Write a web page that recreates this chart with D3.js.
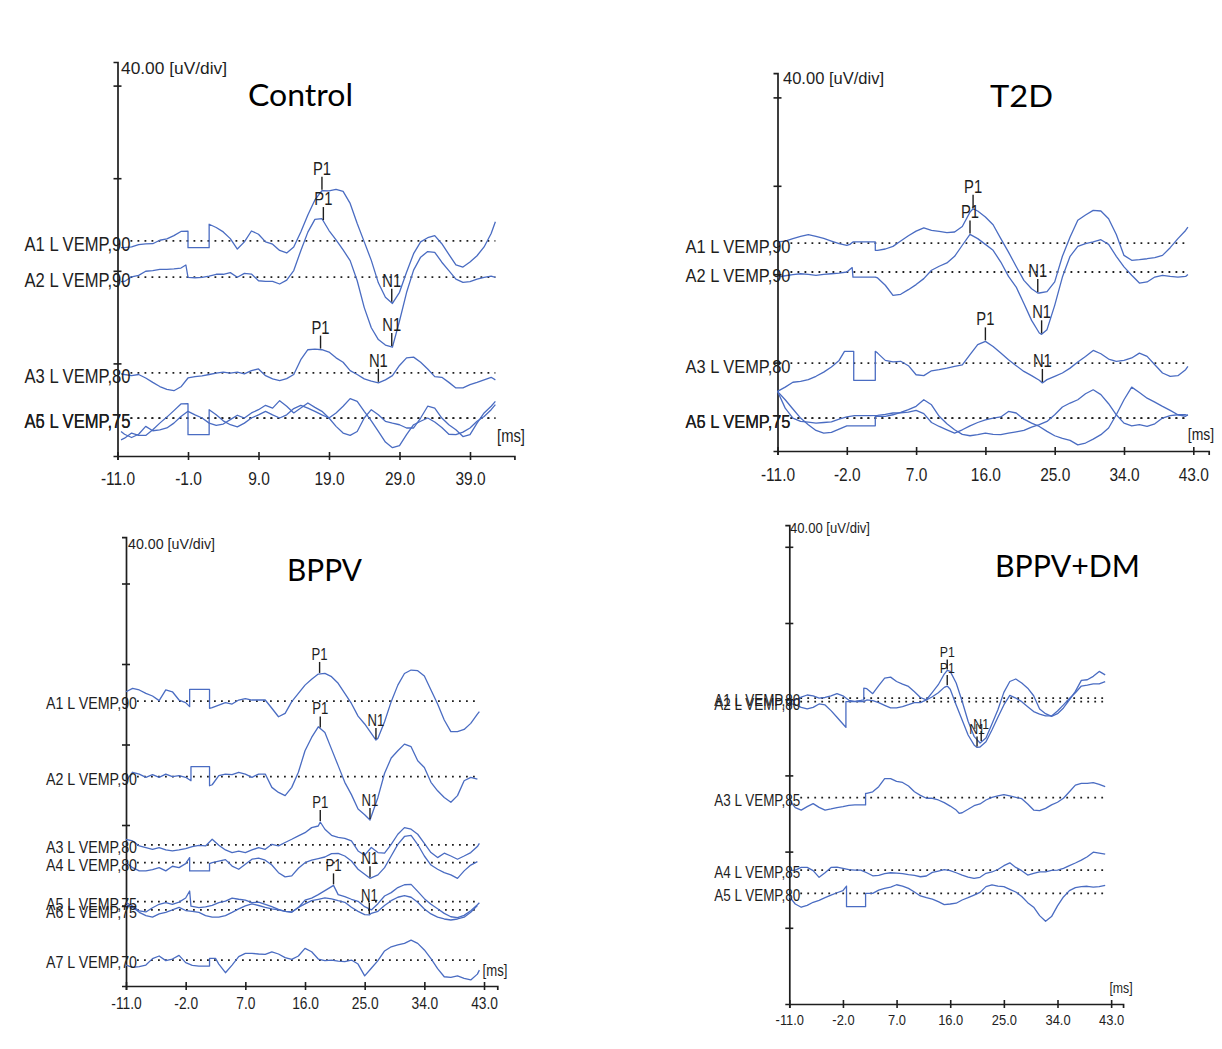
<!DOCTYPE html>
<html><head><meta charset="utf-8">
<script src="https://cdn.jsdelivr.net/npm/d3@7"></script>
<style>html,body{margin:0;padding:0;background:#fff;}svg{display:block;}</style>
</head><body>
<svg id="chart" width="1222" height="1049"></svg>
<script>
// ===================== DATA =====================
// time in ms, amplitude in uV (deviation from each trace's baseline)
const titles = ["Control", "T2D", "BPPV", "BPPV+DM"];
const timeTicksControl = [-11, -1, 9, 19, 29, 39];
const timeTicksOther = [-11, -2, 7, 16, 25, 34, 43];
const ampTicksControl = [40, 80, 120, 160];
const ampTicksT2D = [40, 80, 120, 160];
const ampTicksBPPV = [40, 80, 120, 160, 200];
const ampTicksBPPVDM = [40, 80, 120, 160, 200, 240];
const unitLabel = "40.00 [uV/div]";
const timeUnitLabel = "[ms]";

// ---- Control ----
const controlKeys = ["A1", "A2", "A3", "A5", "A6"];
const controlNames = ["A1 L VEMP,90", "A2 L VEMP,90", "A3 L VEMP,80", "A5 L VEMP,75", "A6 L VEMP,75"];
const controlBaselines = [92.9, 77.3, 35.9, 16.4, 16.4];
const controlA1 = [[-10.5,-2.9],[-10,-2.9],[-9,-2.6],[-8,-1.6],[-7,-1.3],[-6,-1.2],[-5,0.3],[-4,0.9],[-3,2.3],[-2,4.1],[-1,4.2],[-1,-2.9],[2,-2.9],[2,7.2],[3,5.8],[4,3.9],[5,1.0],[6,-3.5],[7,-0.4],[8,4.3],[9,2.9],[10,-0.4],[11,-1.4],[12,-4.1],[13,-5.2],[14,-2.6],[15,3.9],[16,11.2],[17,17.7],[18,21.7],[19,21.6],[20,22.3],[21,21.4],[22,16.2],[23,7.5],[24,-0.4],[25,-8.4],[26,-18.1],[27,-24.3],[28,-27.0],[29,-22.2],[30,-13.5],[31,-5.5],[32,-0.4],[33,1.4],[34,2.3],[35,-1.2],[36,-5.8],[37,-10.3],[38,-11.3],[39,-9.1],[40,-6.4],[41,-2.6],[42,3.2],[42.6,8.3]];
const controlA2 = [[-10.5,-2.0],[-10,-1.9],[-9,0.1],[-8,0.7],[-7,2.5],[-6,2.8],[-5,3.3],[-4,3.3],[-3,3.5],[-2,3.9],[-1.3,5.2],[-1,-0.1],[0,-0.3],[1,-0.1],[2,0.4],[3,1.2],[4,1.2],[5,1.9],[6,-0.1],[7,1.6],[8,1.3],[9,-1.6],[10,-1.9],[11,-1.9],[12,-3.0],[13,-1.3],[14,2.8],[15,11.4],[16,19.4],[17,24.9],[18,25.2],[19,20.1],[20,16.1],[21,11.7],[22,7.1],[23,-1.6],[24,-13.2],[25,-21.9],[26,-27.0],[27,-29.4],[28,-30.3],[29,-19.0],[30,-6.7],[31,3.0],[32,8.6],[33,11.0],[34,10.7],[35,6.4],[36,2.8],[37,-0.9],[38,-2.3],[39,-2.0],[40,-0.9],[41,-0.1],[42,0.4],[42.6,-0.1]];
const controlA3 = [[-10.5,-0.4],[-10,-0.7],[-9,-1.2],[-8,-0.7],[-7,-2.2],[-6,-4.1],[-5,-5.9],[-4,-7.1],[-3,-7.7],[-2,-6.0],[-1,-2.2],[0,-1.6],[1,-1.3],[2,-0.7],[3,-0.1],[4,0.3],[5,-0.1],[6,0.3],[7,-0.4],[8,1.0],[9,1.7],[10,-1.2],[11,-2.6],[12,-3.3],[13,-2.5],[14,-0.7],[15,5.7],[16,10.0],[17,10.3],[18,10.0],[19,9.0],[20,6.5],[21,4.6],[22,1.0],[23,-0.7],[24,-2.6],[25,-3.6],[26,-4.3],[27,-3.0],[28,-1.2],[29,3.2],[30,6.5],[31,6.8],[32,4.6],[33,1.7],[34,-1.6],[35,-1.9],[36,-4.1],[37,-6.5],[38,-6.5],[39,-5.1],[40,-4.1],[41,-3.0],[42,-1.9],[42.6,-3.0]];
const controlA5 = [[-10.5,-9.4],[-10,-8.7],[-9,-6.5],[-8,-7.5],[-7,-7.5],[-6,-5.1],[-5,-2.2],[-4,0.4],[-3,3.2],[-2,6.1],[-1,6.2],[-1,-7.2],[2,-7.2],[2,3.6],[3,1.4],[4,-1.2],[5,-2.9],[6,-3.8],[7,-2.2],[8,0],[9,1.4],[10,2.9],[11,1.4],[12,0],[13,1.4],[14,4.1],[15,5.5],[16,4.3],[17,2.9],[18,1.4],[19,0],[20,2.2],[21,5.1],[22,8.4],[23,7.2],[24,2.9],[25,-1.2],[26,-5.8],[27,-10.4],[28,-12.8],[29,-11.9],[30,-7.2],[31,-2.9],[32,-1.4],[33,0],[34,-1.7],[35,-4.1],[36,-7.0],[37,-7.2],[38,-6.1],[39,-4.3],[40,-1.4],[41,0.7],[42,3.6],[42.6,5.8]];
const controlA6 = [[-10.5,-5.8],[-10,-7.0],[-9,-8.4],[-8,-7.0],[-7,-3.6],[-6,-5.5],[-5,-5.1],[-4,-4.3],[-3,-2.2],[-2,0.7],[-1,2.9],[0,1.4],[1,0],[2,-2.2],[3,-3.2],[4,-2.6],[5,-0.7],[6,1.2],[7,0],[8,2.2],[9,3.6],[10,5.5],[11,4.3],[12,7.5],[13,5.1],[14,2.2],[15,4.3],[16,6.5],[17,4.6],[18,2.9],[19,0],[20,-3.6],[21,-6.5],[22,-7.5],[23,-5.8],[24,0],[25,3.6],[26,1.4],[27,-1.4],[28,-2.2],[29,-2.9],[30,-4.3],[31,-4.3],[32,0],[33,5.1],[34,4.3],[35,0],[36,-2.9],[37,-5.1],[38,-8.0],[39,-7.2],[40,-2.2],[41,2.2],[42,5.1],[42.6,7.2]];
const controlMarkers = [["A1","P1",18.0],["A2","P1",18.2],["A1","N1",27.9],["A2","N1",27.9],["A3","P1",17.8],["A3","N1",26.0]];

// ---- T2D ----
const t2dKeys = ["A1", "A2", "A3", "A5", "A6"];
const t2dNames = ["A1 L VEMP,90", "A2 L VEMP,90", "A3 L VEMP,80", "A5 L VEMP,75", "A6 L VEMP,75"];
const t2dBaselines = [94.1, 81.0, 39.8, 14.9, 14.9];
const t2dA1 = [[-11,0.5],[-10,0.9],[-9,2.0],[-8,3.0],[-7,3.8],[-6,3.0],[-5,2.1],[-4,0.9],[-3,-0.3],[-2,-1.1],[-1.6,-0.6],[-1.2,0.5],[1.7,0.5],[1.7,-3.3],[2,-3.3],[3,-2.7],[4,-1.5],[5,0.9],[6,3.3],[7,5.4],[8,6.9],[9,5.7],[10,5.3],[11,4.7],[12,5.0],[13,7.5],[14,14.0],[14.4,15.5],[15,14.5],[16,11.8],[17,8.3],[18,2.0],[19,-4.1],[20,-10.6],[21,-16.9],[22,-20.7],[22.8,-22.6],[23,-22.6],[24,-22.0],[25,-17.6],[26,-6.0],[27,2.7],[28,10.3],[29,12.7],[30,14.8],[31,14.5],[32,11.0],[33,3.9],[34,-5.6],[35,-7.8],[36,-7.5],[37,-7.1],[38,-6.6],[39,-5.6],[40,-2.1],[41,2.0],[42,5.7],[42.3,7.2]];
const t2dA2 = [[-11,-2.3],[-10,-1.7],[-9,-1.2],[-8,-0.8],[-7,-1.1],[-6,-1.5],[-5,-1.1],[-4,-0.8],[-3,-0.5],[-2,0],[-1.3,2.0],[-1.2,-2.3],[1.7,-2.3],[2,-2.7],[3,-6.0],[4,-10.6],[5,-10.1],[6,-8.0],[7,-5.7],[8,-3.0],[9,0.8],[10,2.6],[11,4.1],[12,7.1],[13,12.1],[14,17.0],[15,15.1],[16,12.5],[17,9.8],[18,4.5],[19,-2.0],[20,-6.8],[21,-14.3],[22,-21.9],[23,-27.6],[23.3,-28.2],[24,-26.1],[25,-15.1],[26,-2.3],[27,7.1],[28,11.6],[29,12.8],[30,13.6],[31,14.6],[32,12.5],[33,7.1],[34,2.3],[35,-1.5],[36,-5.0],[37,-4.5],[38,-2.3],[39,-1.5],[40,-2.0],[41,-2.3],[42,-2.0],[42.3,-1.1]];
const t2dA3 = [[-11,-12.8],[-10,-10.9],[-9,-8.7],[-8,-8.3],[-7,-7.5],[-6,-6.0],[-5,-4.1],[-4,-1.8],[-3,1.2],[-2.3,5.3],[-1.1,5.3],[-1.1,-7.8],[1.7,-7.8],[1.7,5.3],[2,4.5],[3,1.2],[4,0.5],[5,0.8],[6,-1.2],[7,-5.3],[8,-5.7],[9,-3.5],[10,-3.0],[11,-2.3],[12,-1.5],[13,-0.8],[14,3.8],[15,8.3],[16,9.8],[17,7.5],[18,4.5],[19,1.5],[20,-1.2],[21,-3.8],[22,-5.7],[23,-7.8],[23.4,-9.0],[24,-7.5],[25,-6.0],[26,-4.5],[27,-2.3],[28,0.5],[29,3.0],[30,5.7],[31,4.2],[32,1.8],[33,0.8],[34,1.2],[35,2.3],[36,4.5],[37,3.0],[38,-0.8],[39,-4.5],[40,-6.0],[41,-5.7],[42,-3.0],[42.3,-1.5]];
const t2dA5 = [[-11,12.1],[-10,8.3],[-9,4.1],[-8,0],[-7,-3.0],[-6,-5.6],[-5,-6.8],[-4,-6.5],[-3,-5.0],[-2,-3.5],[-1.2,-3.5],[1.7,-3.5],[1.7,0.8],[2,0.8],[3,0.8],[4,1.5],[5,2.6],[6,3.8],[7,5.3],[8,8.3],[9,6.0],[10,0.8],[11,-2.6],[12,-5.3],[13,-7.4],[14,-8.0],[15,-7.5],[16,-6.8],[17,-7.4],[18,-7.5],[19,-6.8],[20,-6.2],[21,-5.6],[22,-4.1],[23,-3.0],[24,-1.5],[25,1.5],[26,5.0],[27,6.8],[28,8.3],[29,11.0],[30,12.8],[31,10.6],[32,6.5],[33,1.5],[34,-2.3],[35,-3.5],[36,-3.0],[37,-3.8],[38,-2.6],[39,0],[40,1.1],[41,1.5],[42,1.5],[42.3,1.2]];
const t2dA6 = [[-11,12.1],[-10,4.5],[-9,0],[-8,-1.5],[-7,-1.8],[-6,-2.3],[-5,-2.0],[-4,-1.7],[-3,-0.5],[-2,0.5],[-1,1.1],[0,1.1],[1,1.1],[2,1.2],[3,1.7],[4,2.3],[5,2.4],[6,2.7],[7,3.5],[8,2.0],[9,-2.0],[10,-3.8],[11,-5.3],[12,-6.8],[13,-5.3],[14,-3.5],[15,-2.0],[16,-0.8],[17,0],[18,0.5],[19,3.0],[20,2.3],[21,-0.5],[22,-2.3],[23,-3.8],[24,-6.0],[25,-8.0],[26,-9.2],[27,-10.1],[28,-12.1],[29,-11.3],[30,-9.5],[31,-7.5],[32,-4.5],[33,1.5],[34,8.3],[35,14.0],[36,11.6],[37,9.0],[38,7.2],[39,5.3],[40,3.5],[41,1.5],[42,0.8],[42.3,1.5]];
const t2dMarkers = [["A1","P1",14.4],["A2","P1",14.0],["A1","N1",22.8],["A2","N1",23.3],["A3","P1",16.0],["A3","N1",23.4]];

// ---- BPPV ----
const bppvKeys = ["A1", "A2", "A3", "A4", "A5", "A6", "A7"];
const bppvNames = ["A1 L VEMP,90", "A2 L VEMP,90", "A3 L VEMP,80", "A4 L VEMP,80", "A5 L VEMP,75", "A6 L VEMP,75", "A7 L VEMP,70"];
const bppvBaselines = [141.6, 104.0, 70.1, 61.3, 41.9, 37.8, 12.9];
const bppvA1 = [[-11,4.6],[-10,6.3],[-9,5.5],[-8,3.8],[-7,2.5],[-6,0.2],[-5,5.5],[-4,4.6],[-3,0.5],[-2,-0.8],[-1.4,-2.8],[-1.4,5.8],[1.6,5.8],[1.6,-3.6],[2,-3.3],[3,-2.0],[4,-0.8],[5,-1.5],[6,0.5],[7,1.2],[8,0.5],[9,0.5],[10,0.5],[11,-3.6],[12,-7.8],[13,-6.1],[14,-0.3],[15,3.8],[16,7.9],[17,10.8],[18,13.4],[19,13.7],[20,12.1],[21,8.8],[22,3.8],[23,-1.2],[24,-7.5],[25,-11.4],[26,-16.1],[26.7,-19.4],[27,-18.5],[28,-10.3],[29,-0.3],[30,7.9],[31,13.7],[32,15.4],[33,15.1],[34,12.4],[35,5.5],[36,-1.5],[37,-9.4],[38,-15.2],[39,-15.2],[40,-14.1],[41,-11.1],[42,-6.5],[42.3,-5.3]];
const bppvA2 = [[-11,-2.0],[-10,2.2],[-9,1.3],[-8,-0.3],[-7,1.0],[-6,-0.3],[-5,1.3],[-4,0],[-3,0.5],[-2,-0.3],[-1.2,-2.0],[-1.2,5.0],[1.6,5.0],[1.6,-4.5],[2,-4.0],[3,0.5],[4,1.3],[5,1.0],[6,2.2],[7,1.3],[8,-0.3],[9,1.3],[10,1.3],[11,-5.3],[12,-7.8],[13,-9.4],[14,-5.3],[15,2.2],[16,12.9],[17,19.5],[18,24.8],[19,22.0],[20,13.7],[21,5.5],[22,-2.8],[23,-8.9],[24,-16.1],[25,-18.9],[25.8,-21.5],[27,-10.3],[28,1.7],[29,9.3],[30,12.9],[31,16.2],[32,14.9],[33,7.9],[34,4.6],[35,-2.8],[36,-7.0],[37,-10.3],[38,-12.7],[39,-9.4],[40,-2.0],[41,-0.3],[42,-1.2]];
const bppvA3 = [[-11,2.8],[-10,2.0],[-9,-0.5],[-8,-1.3],[-7,-2.2],[-6,-1.3],[-5,-2.5],[-4,-3.0],[-3,-2.5],[-2,-1.8],[-1,-0.8],[0,-0.2],[1,-0.5],[2,2.8],[3,-0.2],[4,-2.5],[5,-3.8],[6,-3.1],[7,-3.8],[8,-2.5],[9,-1.3],[10,-2.2],[11,0.3],[12,-0.5],[13,1.2],[14,2.8],[15,4.5],[16,6.1],[17,8.6],[18,9.4],[18.3,11.4],[19,7.8],[20,4.8],[21,3.8],[22,3.3],[23,2.0],[24,-3.0],[25,-5.1],[26,-1.3],[27,-3.8],[28,-4.1],[29,0.3],[30,5.3],[31,8.6],[32,7.8],[33,5.3],[34,0.8],[35,-3.8],[36,-6.3],[37,-4.1],[38,-5.5],[39,-7.1],[40,-5.5],[41,-3.8],[42,-0.8],[42.3,0.8]];
const bppvA4 = [[-11,0],[-10,-2.5],[-9,-4.1],[-8,-4.1],[-7,-3.5],[-6,-2.5],[-5,-4.1],[-4,-1.8],[-3,-2.5],[-2,-0.5],[-1.4,2.5],[-1.4,-4.1],[1.6,-4.1],[1.6,-0.5],[2,0],[3,0.8],[4,1.5],[5,-1.7],[6,-3.3],[7,-0.8],[8,1.7],[9,2.2],[10,1.2],[11,-1.2],[12,-5.0],[13,-7.1],[14,-6.6],[15,-2.8],[16,0],[17,1.2],[18,2.0],[19,2.8],[20,4.5],[21,4.6],[22,3.3],[23,0.8],[24,-3.3],[25,-5.8],[25.8,-7.8],[27,-6.1],[28,-2.5],[29,3.3],[30,9.1],[31,13.0],[32,13.5],[33,9.0],[34,3.3],[35,-1.2],[36,-3.3],[37,-5.0],[38,-6.1],[39,-7.8],[40,-4.1],[41,-1.2],[42,0.5]];
const bppvA5 = [[-11,-0.5],[-10,-2.2],[-9,-4.6],[-8,-5.1],[-7,-3.0],[-6,-1.3],[-5,-0.5],[-4,-1.3],[-3,-0.2],[-2,1.8],[-1.4,5.3],[-1.2,-2.2],[0,-3.0],[1,-2.6],[2,-1.8],[3,-0.5],[4,0.3],[5,1.8],[6,1.2],[7,0.8],[8,-0.5],[9,-0.2],[10,-1.3],[11,-2.5],[12,-3.8],[13,-4.8],[14,-5.1],[15,-3.0],[16,0.8],[17,1.8],[18,3.5],[19,5.5],[20,7.5],[20.3,8.1],[21,3.5],[22,2.5],[23,1.2],[24,0.2],[25,-2.5],[26,-4.1],[27,-1.0],[28,2.8],[29,4.5],[30,7.0],[31,8.4],[32,8.6],[33,5.1],[34,1.5],[35,-1.3],[36,-3.5],[37,-5.8],[38,-7.5],[39,-7.9],[40,-6.8],[41,-4.5],[42,-1.5],[42.3,-0.5]];
const bppvA6 = [[-11,2.2],[-10,1.3],[-9,-1.2],[-8,-2.8],[-7,-3.6],[-6,-2.0],[-5,-1.2],[-4,0],[-3,1.3],[-2,-0.3],[-1,-0.7],[0,-1.2],[1,-2.8],[2,-3.6],[3,-3.6],[4,-2.8],[5,-1.2],[6,0.5],[7,2.0],[8,3.0],[9,2.2],[10,1.3],[11,0.5],[12,0],[13,-0.7],[14,-1.2],[15,1.3],[16,3.0],[17,4.6],[18,5.3],[19,6.0],[20,5.5],[21,4.6],[22,3.8],[23,1.3],[24,-0.7],[25,-2.3],[25.7,-2.5],[26,-1.7],[27,-0.7],[28,2.2],[29,4.6],[30,6.3],[31,7.1],[32,6.3],[33,3.8],[34,0.5],[35,-2.0],[36,-3.6],[37,-4.5],[38,-5.0],[39,-4.5],[40,-3.6],[41,-1.2],[42,2.2]];
const bppvA7 = [[-11,-2.5],[-10,-3.6],[-9,-3.3],[-8,-2.5],[-7,0.7],[-6,2.0],[-5,-0.3],[-4,0.5],[-3,2.3],[-2,-1.3],[-1,-2.6],[0,-3.0],[1.6,-3.0],[1.6,0.8],[2.5,0.8],[3,-2.0],[4,-6.3],[5,-2.5],[6,1.7],[7,3.3],[8,3.3],[9,3.0],[10,2.8],[11,4.1],[12,3.0],[13,1.2],[14,0.3],[15,2.0],[16,5.8],[17,4.1],[18,0.5],[19,-0.3],[20,0],[21,-0.5],[22,-0.8],[23,0],[24,-2.0],[25,-7.9],[26,-4.1],[27,-0.3],[28,4.5],[29,6.6],[30,7.5],[31,8.3],[32,9.9],[33,8.3],[34,5.0],[35,0.7],[36,-4.3],[37,-8.3],[38,-8.6],[39,-7.9],[40,-9.1],[41,-9.9],[42,-7.0],[42.3,-5.0]];
const bppvMarkers = [["A1","P1",18.2],["A2","P1",18.3],["A1","N1",26.7],["A2","N1",25.8],["A3","P1",18.3],["A4","N1",25.8],["A5","P1",20.3],["A6","N1",25.7]];

// ---- BPPV+DM ----
const bppvdmKeys = ["A1", "A2", "A3", "A4", "A5"];
const bppvdmNames = ["A1 L VEMP,80", "A2 L VEMP,80", "A3 L VEMP,85", "A4 L VEMP,85", "A5 L VEMP,80"];
const bppvdmBaselines = [160.6, 158.7, 108.3, 70.3, 58.1];
const bppvdmA1 = [[-11,-1.7],[-10,-1.0],[-9,0.5],[-8,1.6],[-7,1.2],[-6,0],[-5,0.3],[-4,1.2],[-3,2.3],[-2,1.2],[-1,-1.2],[0,-1.7],[1,-1.2],[1.5,-0.9],[1.5,5.2],[2,4.9],[3,2.3],[4,6.5],[5,10.5],[6,11.0],[7,8.7],[8,7.3],[9,6.1],[10,3.3],[11,0.3],[12,-0.9],[13,3.0],[14,7.0],[15,12.6],[15.5,14.5],[16,14.0],[17,7.9],[18,-1.7],[19,-12.2],[20,-20.1],[21,-23.6],[22,-21.0],[23,-13.6],[24,-6.1],[25,3.0],[26,8.7],[27,10.0],[28,7.9],[29,5.2],[30,1.2],[31,-5.8],[32,-8.2],[33,-9.6],[34,-8.2],[35,-5.2],[36,-0.9],[37,3.5],[38,9.3],[39,9.6],[40,11.4],[41,14.0],[42,12.2]];
const bppvdmA2 = [[-11,-0.9],[-10,-1.6],[-9,-3.0],[-8,-3.8],[-7,-3.0],[-6,-1.2],[-5,-1.7],[-4,-4.7],[-3,-8.2],[-2,-11.7],[-1.5,-13.5],[-1.5,0],[1.5,0],[2,0.9],[3,0.5],[4,-0.5],[5,-1.9],[6,-3.3],[7,-3.3],[8,-2.6],[9,-1.6],[10,-0.5],[11,-0.5],[12,0.9],[13,2.6],[14,4.7],[15,7.5],[15.5,8.2],[16,6.5],[17,-1.7],[18,-9.6],[19,-17.5],[20,-22.7],[20.5,-24.0],[21,-23.8],[22,-21.0],[23,-14.9],[24,-8.2],[25,-1.7],[26,3.3],[27,1.9],[28,0],[29,-2.6],[30,-5.2],[31,-6.5],[32,-7.5],[33,-7.5],[34,-4.9],[35,-1.7],[36,1.7],[37,4.7],[38,8.2],[39,8.7],[40,9.3],[41,9.3],[42,10.5]];
const bppvdmA3 = [[-11,-1.2],[-10,-5.2],[-9,-6.5],[-8,-4.7],[-7,-3.1],[-6,-5.1],[-5,-6.5],[-4,-5.9],[-3,-5.2],[-2,-4.7],[-1,-4.0],[0,-3.8],[1.8,-3.8],[1.8,2.3],[2,2.3],[3,3.1],[4,5.8],[5,10.0],[6,10.0],[7,8.6],[8,8.0],[9,6.1],[10,3.1],[11,1.2],[12,-0.3],[13,-0.3],[14,-1.2],[15,-2.6],[16,-4.4],[17,-6.5],[17.5,-8.2],[18,-7.9],[19,-6.1],[20,-4.2],[21,-3.3],[22,-1.2],[23,0.2],[24,0.9],[25,1.6],[26,0.9],[27,0.2],[28,-0.5],[29,-3.3],[30,-6.5],[31,-6.8],[32,-5.6],[33,-3.8],[34,-2.4],[35,-0.3],[36,3.1],[37,6.6],[38,7.5],[39,7.5],[40,7.9],[41,7.0],[42,5.8]];
const bppvdmA4 = [[-11,-0.3],[-10,0],[-9,1.4],[-8,1.4],[-7,-0.3],[-6,-3.8],[-5,-1.4],[-4,1.4],[-3,1.6],[-2,0.9],[-1,0.2],[0,0],[1,0],[2,-1.4],[3,-3.0],[4,-2.8],[5,-1.9],[6,-1.4],[7,-1.6],[8,-1.9],[9,-2.4],[10,-2.8],[11,-3.5],[12,-3.1],[13,-1.2],[14,-0.5],[15,0.2],[16,-0.3],[17,-1.4],[18,-2.6],[19,-3.7],[20,-4.4],[21,-3.8],[22,-1.7],[23,-1.0],[24,0.3],[25,2.3],[26,3.8],[27,1.4],[28,-0.3],[29,-2.6],[30,-1.7],[31,-0.9],[32,-0.9],[33,-0.2],[34,0],[35,0.9],[36,2.3],[37,3.7],[38,5.2],[39,7.0],[40,9.4],[41,8.9],[42,8.4]];
const bppvdmA5 = [[-11,-1.7],[-10,-5.6],[-9,-7.3],[-8,-6.3],[-7,-4.7],[-6,-3.7],[-5,-2.3],[-4,-0.9],[-3,0.3],[-2,1.4],[-1.4,3.8],[-1.4,-7.0],[1.8,-7.0],[1.8,0],[3,0],[4,1.7],[5,2.6],[6,3.3],[7,4.5],[8,3.8],[9,2.6],[10,0.7],[11,-1.4],[12,-2.3],[13,-3.0],[14,-4.4],[15,-5.9],[16,-5.6],[17,-5.2],[18,-3.5],[19,-2.3],[20,-0.9],[21,0.5],[22,3.5],[23,4.4],[24,3.8],[25,3.5],[26,2.1],[27,0.7],[28,-1.7],[29,-4.9],[30,-7.3],[31,-11.7],[32,-14.7],[33,-12.2],[34,-6.6],[35,-1.9],[36,1.4],[37,3.0],[38,3.5],[39,3.7],[40,3.3],[41,3.5],[42,4.2]];
const bppvdmMarkers = [["A1","P1",15.5],["A2","P1",15.5],["A1","N1",21.2],["A2","N1",20.5]];

// ===================== LAYOUT / STYLE =====================
const FONT = "'Liberation Sans', Arial, sans-serif";
const TITLE_FONT = "Lato, 'Open Sans', sans-serif";
const TRACE_COLOR = "#4a6cc2";
const INK = "#1e1e1e";
const CONDENSE = 0.82;

const panels = [
  { title: titles[0], keys: controlKeys, names: controlNames, baselines: controlBaselines,
    traces: [controlA1, controlA2, controlA3, controlA5, controlA6], markers: controlMarkers,
    xTicks: timeTicksControl, yTicks: ampTicksControl,
    L: { x0: 117.5, pxMs: 7.05, endT: 45.3, y0: 456, pxUv: 2.315, topUv: 170.2, lineEndT: 42.6,
         labelEnd: 13, labelW: 106, labelFont: 19.5, labelDy: 3, tickFont: 18, tickDy: 23,
         unitX: 121, unitY: 68, unitW: 106, unitFont: 17, msX: 511, msY: 436, msFont: 18,
         titleX: 300.5, titleY: 95, titleW: 105, titleFont: 31, mLen: 13, mFont: 18 } },
  { title: titles[1], keys: t2dKeys, names: t2dNames, baselines: t2dBaselines,
    traces: [t2dA1, t2dA2, t2dA3, t2dA5, t2dA6], markers: t2dMarkers,
    xTicks: timeTicksOther, yTicks: ampTicksT2D,
    L: { x0: 777.5, pxMs: 7.7, endT: 45, y0: 451, pxUv: 2.21, topUv: 171, lineEndT: 42.3,
         labelEnd: 13, labelW: 105, labelFont: 19, labelDy: 3, tickFont: 18, tickDy: 24,
         unitX: 783, unitY: 78, unitW: 101, unitFont: 17, msX: 1201, msY: 434, msFont: 17,
         titleX: 1021.5, titleY: 96, titleW: 63, titleFont: 31, mLen: 13, mFont: 18 } },
  { title: titles[2], keys: bppvKeys, names: bppvNames, baselines: bppvBaselines,
    traces: [bppvA1, bppvA2, bppvA3, bppvA4, bppvA5, bppvA6, bppvA7], markers: bppvMarkers,
    xTicks: timeTicksOther, yTicks: ampTicksBPPV,
    L: { x0: 126, pxMs: 6.63, endT: 45, y0: 986, pxUv: 2.0125, topUv: 223, lineEndT: 42.3,
         labelEnd: 11, labelW: 91, labelFont: 17, labelDy: 2.5, tickFont: 16, tickDy: 17,
         unitX: 128, unitY: 544, unitW: 87, unitFont: 15, msX: 495, msY: 970, msFont: 16,
         titleX: 324.5, titleY: 570, titleW: 75, titleFont: 30, mLen: 11, mFont: 16 } },
  { title: titles[3], keys: bppvdmKeys, names: bppvdmNames, baselines: bppvdmBaselines,
    traces: [bppvdmA1, bppvdmA2, bppvdmA3, bppvdmA4, bppvdmA5], markers: bppvdmMarkers,
    xTicks: timeTicksOther, yTicks: ampTicksBPPVDM,
    L: { x0: 789.3, pxMs: 5.96, endT: 45, y0: 1004, pxUv: 1.905, topUv: 251.4, lineEndT: 42,
         labelEnd: 11, labelW: 86, labelFont: 16, labelDy: 2.5, tickFont: 15, tickDy: 16,
         unitX: 790, unitY: 528, unitW: 80, unitFont: 14, msX: 1121, msY: 988, msFont: 15,
         titleX: 1067.5, titleY: 566, titleW: 145, titleFont: 30, mLen: 10, mFont: 15 } }
];

// ===================== DRAW =====================
const svg = d3.select("#chart");
svg.append("rect").attr("width", 1222).attr("height", 1049).attr("fill", "#fff");

function valueAt(trace, t) {
  for (let i = 0; i < trace.length - 1; i++) {
    const a = trace[i], b = trace[i + 1];
    if (t >= a[0] && t <= b[0]) {
      if (b[0] === a[0]) return a[1];
      return a[1] + (b[1] - a[1]) * (t - a[0]) / (b[0] - a[0]);
    }
  }
  return trace[trace.length - 1][1];
}
function condense(sel, f) {
  sel.each(function () {
    const w = this.getComputedTextLength();
    d3.select(this).attr("textLength", w * f).attr("lengthAdjust", "spacingAndGlyphs");
  });
}

panels.forEach(p => {
  const L = p.L;
  const x = d3.scaleLinear().domain([-11, L.endT]).range([L.x0, L.x0 + (L.endT + 11) * L.pxMs]);
  const y = d3.scaleLinear().domain([0, L.topUv]).range([L.y0, L.y0 - L.topUv * L.pxUv]);
  const g = svg.append("g");

  // x axis
  const xa = g.append("g").attr("transform", `translate(0,${L.y0})`)
    .call(d3.axisBottom(x).tickValues(p.xTicks).tickSizeOuter(0).tickSize(4).tickFormat(d => d.toFixed(1)));
  xa.select(".domain").attr("stroke", INK).attr("stroke-width", 1.7);
  xa.selectAll(".tick line").attr("y1", -4).attr("y2", 4).attr("stroke", INK).attr("stroke-width", 1.6);
  xa.selectAll(".tick text").attr("y", L.tickDy).attr("dy", "0.35em")
    .attr("font-family", FONT).attr("font-size", L.tickFont).attr("fill", INK);
  condense(xa.selectAll(".tick text"), 0.86);

  // y axis
  const ya = g.append("g").attr("transform", `translate(${L.x0},0)`)
    .call(d3.axisLeft(y).tickValues(p.yTicks).tickSizeOuter(0).tickSize(4).tickFormat(""));
  ya.select(".domain").attr("stroke", INK).attr("stroke-width", 1.7);
  ya.selectAll(".tick line").attr("x1", -4).attr("x2", 4).attr("stroke", INK).attr("stroke-width", 1.6);

  // dotted baselines
  const lx = L.x0 + L.labelEnd;
  p.baselines.forEach(b => {
    g.append("line").attr("x1", lx).attr("x2", x(L.lineEndT)).attr("y1", y(b)).attr("y2", y(b))
      .attr("stroke", INK).attr("stroke-width", 1.8).attr("stroke-dasharray", "1.8 5.2");
  });

  // traces
  p.traces.forEach((tr, i) => {
    const base = p.baselines[i];
    const line = d3.line().x(d => x(d[0])).y(d => y(base + d[1]));
    g.append("path").attr("d", line(tr)).attr("fill", "none")
      .attr("stroke", TRACE_COLOR).attr("stroke-width", 1.3).attr("stroke-linejoin", "round");
  });

  // trace labels
  p.names.forEach((n, i) => {
    g.append("text").attr("x", lx - L.labelW).attr("y", y(p.baselines[i]) + L.labelDy).attr("dy", "0.35em")
      .attr("textLength", L.labelW).attr("lengthAdjust", "spacingAndGlyphs")
      .attr("font-family", FONT).attr("font-size", L.labelFont).attr("fill", INK).text(n);
  });

  // peak markers
  p.markers.forEach(m => {
    const idx = p.keys.indexOf(m[0]);
    const base = p.baselines[idx];
    const v = valueAt(p.traces[idx], m[2]);
    const px = x(m[2]), py = y(base + v) - 1;
    g.append("line").attr("x1", px).attr("x2", px).attr("y1", py).attr("y2", py - L.mLen)
      .attr("stroke", INK).attr("stroke-width", 1.4);
    const t = g.append("text").attr("x", px).attr("y", py - L.mLen - 2).attr("text-anchor", "middle")
      .attr("font-family", FONT).attr("font-size", L.mFont).attr("fill", INK).text(m[1]);
    condense(t, CONDENSE);
  });

  // unit labels
  g.append("text").attr("x", L.unitX).attr("y", L.unitY).attr("dy", "0.35em")
    .attr("textLength", L.unitW).attr("lengthAdjust", "spacingAndGlyphs")
    .attr("font-family", FONT).attr("font-size", L.unitFont).attr("fill", INK).text(unitLabel);
  const ms = g.append("text").attr("x", L.msX).attr("y", L.msY).attr("dy", "0.35em").attr("text-anchor", "middle")
    .attr("font-family", FONT).attr("font-size", L.msFont).attr("fill", INK).text(timeUnitLabel);
  condense(ms, CONDENSE);

  // title
  g.append("text").attr("x", L.titleX - L.titleW / 2).attr("y", L.titleY).attr("dy", "0.35em")
    .attr("textLength", L.titleW).attr("lengthAdjust", "spacingAndGlyphs")
    .attr("font-family", TITLE_FONT).attr("font-size", L.titleFont).attr("fill", "#000").text(p.title);
});
</script>
</body></html>
